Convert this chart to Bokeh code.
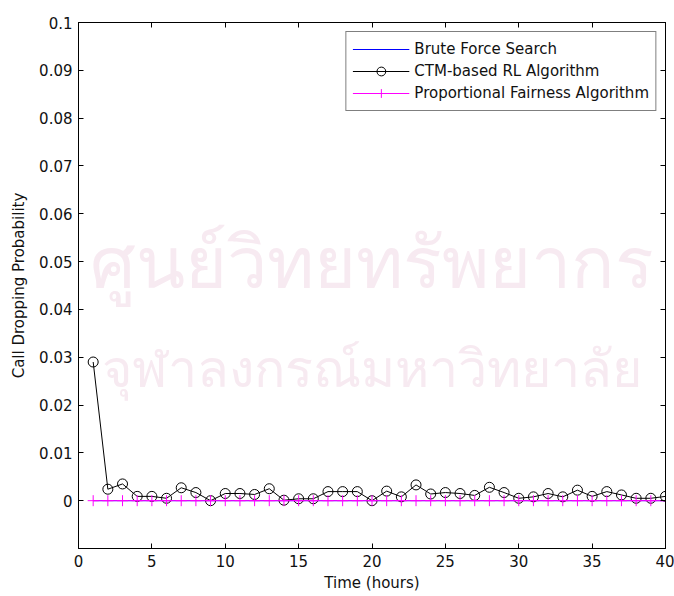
from bokeh.plotting import figure
from bokeh.models import (LinearAxis, FixedTicker, NumeralTickFormatter, Legend, LegendItem,
                          Range1d, Label)
from bokeh.embed import file_html
from bokeh.resources import INLINE

# ---- data ----
hours = list(range(1, 41))
brute_force = [0.0] * 40
ctm_rl = [0.0290, 0.0024, 0.0035, 0.0009, 0.0009, 0.0005, 0.0027, 0.0017, 0.0000, 0.0015,
          0.0015, 0.0013, 0.0025, 0.0001, 0.0004, 0.0004, 0.0019, 0.0019, 0.0019, 0.0000,
          0.0020, 0.0008, 0.0033, 0.0014, 0.0017, 0.0015, 0.0011, 0.0028, 0.0017, 0.0005,
          0.0008, 0.0015, 0.0008, 0.0022, 0.0009, 0.0019, 0.0012, 0.0005, 0.0005, 0.0009]
prop_fair = [0.0] * 40
x_ticks = [0, 5, 10, 15, 20, 25, 30, 35, 40]
y_ticks = [0, 0.01, 0.02, 0.03, 0.04, 0.05, 0.06, 0.07, 0.08, 0.09, 0.1]
series_names = ["Brute Force Search", "CTM-based RL Algorithm", "Proportional Fairness Algorithm"]
x_label = "Time (hours)"
y_label = "Call Dropping Probability"
watermark = ["ศูนย์วิทยทรัพยากร", "จุฬาลงกรณ์มหาวิทยาลัย"]

FONT = "DejaVu Sans"

p = figure(width=674, height=596, output_backend="svg", toolbar_location=None,
           x_range=Range1d(0, 40), y_range=Range1d(-0.01, 0.1),
           min_border_left=78, min_border_right=9, min_border_top=22, min_border_bottom=48,
           x_axis_label=x_label, y_axis_label=y_label)
p.background_fill_color = "white"
p.border_fill_color = "white"
p.grid.visible = False
p.outline_line_color = "black"
p.outline_line_width = 1

# faint background watermark
p.add_layout(Label(x=293, y=286, x_units="screen", y_units="screen", text=watermark[0],
                   text_font=FONT, text_font_size="72px", text_color="#f7eaf1",
                   text_align="center", text_baseline="middle", level="underlay"))
p.add_layout(Label(x=293, y=180, x_units="screen", y_units="screen", text=watermark[1],
                   text_font=FONT, text_font_size="52px", text_color="#f7eaf1",
                   text_align="center", text_baseline="middle", level="underlay"))

for ax in (p.xaxis[0], p.yaxis[0]):
    ax.major_tick_in = 5
    ax.major_tick_out = 0
    ax.minor_tick_in = 0
    ax.minor_tick_out = 0
    ax.axis_line_color = "black"
    ax.major_label_text_font = FONT
    ax.major_label_text_font_size = "15px"
    ax.major_label_text_color = "#111111"
    ax.axis_label_text_font = FONT
    ax.axis_label_text_font_size = "15px"
    ax.axis_label_text_font_style = "normal"
    ax.axis_label_text_color = "#111111"

p.xaxis[0].ticker = FixedTicker(ticks=x_ticks)
p.yaxis[0].ticker = FixedTicker(ticks=y_ticks)
p.yaxis[0].formatter = NumeralTickFormatter(format="0.[00]")
p.xaxis[0].major_label_standoff = 6
p.yaxis[0].major_label_standoff = 6
p.xaxis[0].axis_label_standoff = 4
p.yaxis[0].axis_label_standoff = 8

top = LinearAxis(ticker=FixedTicker(ticks=x_ticks), major_tick_in=5, major_tick_out=0,
                 minor_tick_in=0, minor_tick_out=0, major_label_text_color=None,
                 major_label_text_font_size="1px")
right = LinearAxis(ticker=FixedTicker(ticks=y_ticks), major_tick_in=5, major_tick_out=0,
                   minor_tick_in=0, minor_tick_out=0, major_label_text_color=None,
                   major_label_text_font_size="1px")
p.add_layout(top, "above")
p.add_layout(right, "right")

r_bf = p.line(hours, brute_force, line_color="#0000ff", line_width=1)
r_ctm_l = p.line(hours, ctm_rl, line_color="black", line_width=1)
r_ctm_m = p.scatter(hours, ctm_rl, marker="circle", size=10, fill_color=None,
                    line_color="black", line_width=1)
r_pf_l = p.line(hours, prop_fair, line_color="#ff00ff", line_width=1)
r_pf_m = p.scatter(hours, prop_fair, marker="cross", size=11, line_color="#ff00ff", line_width=1)

legend = Legend(items=[
    LegendItem(label=series_names[0], renderers=[r_bf]),
    LegendItem(label=series_names[1], renderers=[r_ctm_l, r_ctm_m]),
    LegendItem(label=series_names[2], renderers=[r_pf_l, r_pf_m]),
], location="top_right")
legend.margin = 9
legend.padding = 6
legend.spacing = 0
legend.glyph_width = 57
legend.glyph_height = 22
legend.label_height = 22
legend.label_standoff = 5
legend.label_text_font = FONT
legend.label_text_font_size = "15px"
legend.label_text_color = "#111111"
legend.border_line_color = "black"
legend.border_line_width = 1
legend.background_fill_color = "white"
legend.background_fill_alpha = 1.0
p.add_layout(legend, "center")

open("out.html", "w").write(file_html(p, INLINE))
